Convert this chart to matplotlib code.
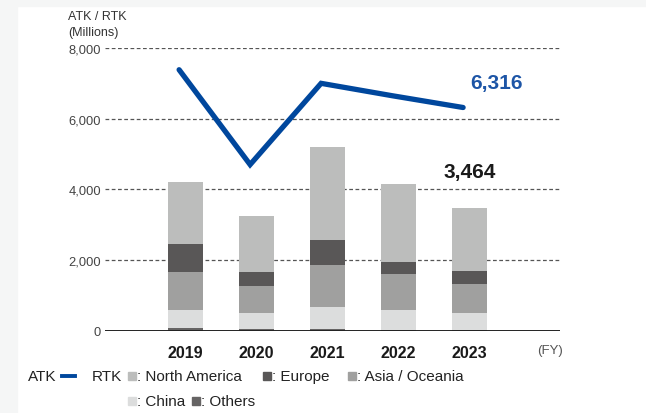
import numpy as np
import matplotlib
matplotlib.use('Agg')
import matplotlib.pyplot as plt
from matplotlib.patches import Rectangle
from matplotlib.lines import Line2D

plt.rcParams['font.family'] = ['Liberation Sans', 'DejaVu Sans']

years = ['2019', '2020', '2021', '2022', '2023']
atk = [7385, 4700, 7000, 6650, 6316]
north_america = [1756, 1587, 2634, 2209, 1764]
europe = [794, 396, 708, 340, 369]
asia_oceania = [1076, 765, 1190, 1020, 821]
china = [510, 453, 623, 567, 482]
others = [85, 57, 57, 28, 28]
rtk_total_2023 = 3464
yticks = [0, 2000, 4000, 6000, 8000]

c_na = '#bcbdbc'
c_eu = '#595757'
c_asia = '#a0a09f'
c_china = '#dcdddd'
c_others = '#666464'
c_line = '#00479d'

W, H = 646, 414
fig = plt.figure(figsize=(W / 100, H / 100), dpi=100)
fig.patch.set_facecolor('white')

def fx(px):
    return px / W

def fy(py):
    return 1 - py / H

# light grey frame strips of the page
fig.patches.append(Rectangle((0, fy(7)), 1, 7 / H, transform=fig.transFigure, color='#f5f6f6', zorder=0))
fig.patches.append(Rectangle((0, 0), fx(17), 1, transform=fig.transFigure, color='#f5f6f6', zorder=0))

ax = fig.add_axes([fx(105), fy(331.7), fx(560) - fx(105), (331.7 - 49) / H])
ax.set_facecolor('none')
x = np.arange(len(years))
bw = 0.49

bottom = np.zeros(len(years))
for vals, col in [(others, c_others), (china, c_china), (asia_oceania, c_asia),
                  (europe, c_eu), (north_america, c_na)]:
    ax.bar(x, vals, bw, bottom=bottom, color=col, zorder=2, linewidth=0)
    bottom += np.array(vals)

ax.plot(x - 0.09, atk, color=c_line, lw=3.8, solid_capstyle='round',
        solid_joinstyle='miter', zorder=4)

for t in yticks[1:]:
    ax.axhline(t, color='#555555', lw=0.9, ls=(0, (3, 2)), zorder=1)
ax.axhline(0, color='#222222', lw=1.4, zorder=3)

ax.set_xlim((105 - 185.5) / 71, (560 - 185.5) / 71)
ax.set_ylim(0, 8000)
ax.set_yticks(yticks)
ax.set_yticklabels([f'{t:,}' for t in yticks], fontsize=9.3, color='#444444')
ax.set_xticks(x)
ax.set_xticklabels(years, fontsize=11.5, fontweight='bold', color='#1a1a1a')
ax.tick_params(axis='y', length=0, pad=3)
ax.tick_params(axis='x', length=0, pad=10)
for s in ax.spines.values():
    s.set_visible(False)

ax.text(x[-1] + 0.38, atk[-1] + 700, f'{atk[-1]:,}', fontsize=15, fontweight='bold',
        color='#1d55a6', ha='center', va='center', zorder=5)
ax.text(x[-1], rtk_total_2023 + 1030, f'{rtk_total_2023:,}', fontsize=15, fontweight='bold',
        color='#1a1a1a', ha='center', va='center', zorder=5,
        bbox=dict(facecolor='white', edgecolor='none', pad=2))

fig.text(fx(68), fy(17), 'ATK / RTK', fontsize=9, color='#333333', va='center', ha='left')
fig.text(fx(68), fy(33), '(Millions)', fontsize=9, color='#333333', va='center', ha='left')
fig.text(fx(549.5), fy(351), '(FY)', fontsize=9.5, color='#555555', va='center', ha='center')

# legend, built by hand
ly1, ly2 = 377, 402
fs = 11
fig.text(fx(28), fy(ly1), 'ATK', fontsize=fs, color='#222222', va='center')
fig.add_artist(Line2D([fx(62), fx(75)], [fy(ly1), fy(ly1)], color=c_line, lw=2.8,
                      transform=fig.transFigure))
fig.text(fx(92), fy(ly1), 'RTK', fontsize=fs, color='#222222', va='center')
items = [(128, ly1, c_na, ': North America'), (263, ly1, c_eu, ': Europe'),
         (348, ly1, c_asia, ': Asia / Oceania'), (128, ly2, c_china, ': China'),
         (192, ly2, c_others, ': Others')]
for px, py, col, lab in items:
    fig.patches.append(Rectangle((fx(px), fy(py + 4)), 8 / W, 8 / H,
                                 transform=fig.transFigure, color=col))
    fig.text(fx(px + 9), fy(py), lab, fontsize=fs, color='#222222', va='center')

fig.savefig('out.png', dpi=100)
